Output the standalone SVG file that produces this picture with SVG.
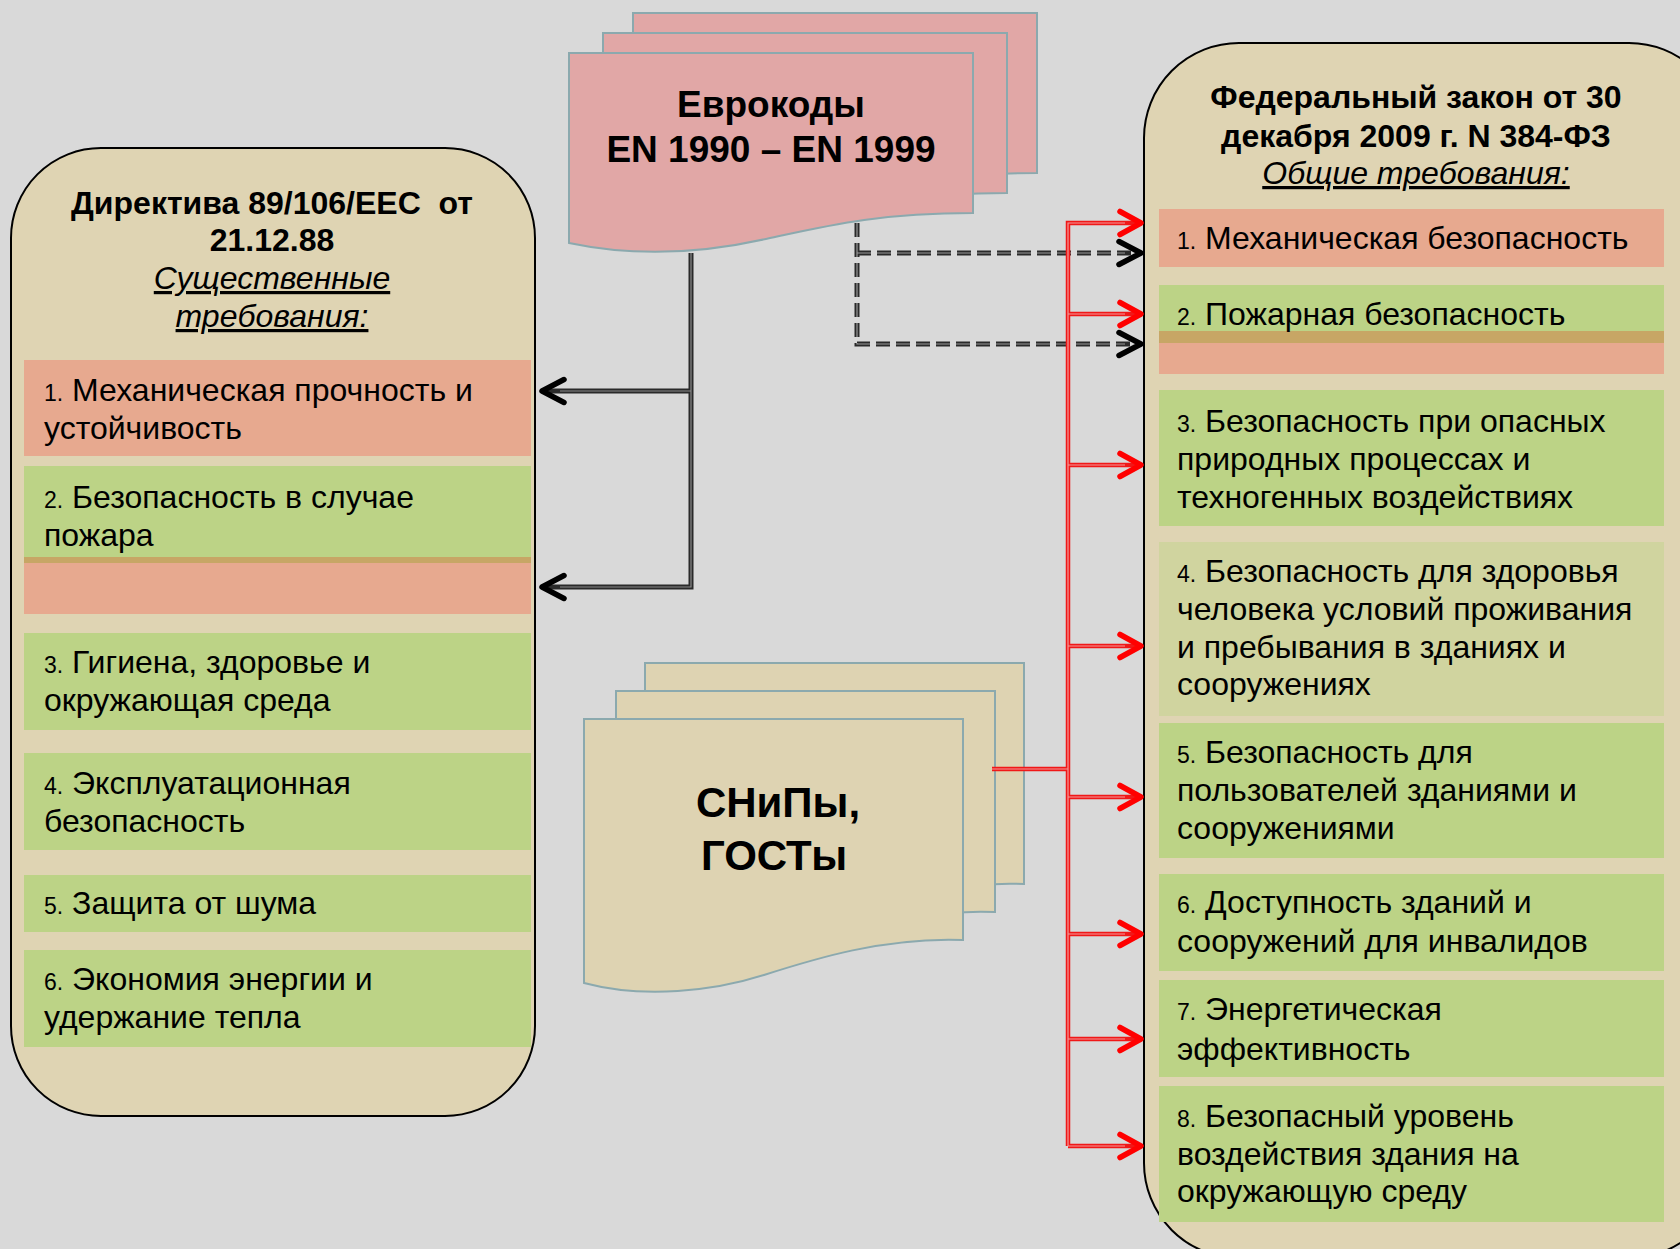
<svg xmlns="http://www.w3.org/2000/svg" width="1680" height="1249" viewBox="0 0 1680 1249">
<defs>
<style>
text{font-family:"Liberation Sans",Arial,sans-serif;fill:#000}
.hd{font-size:32px;font-weight:bold;text-anchor:middle}
.it{font-size:32px;font-style:italic;text-anchor:middle;text-decoration:underline}
.tx{font-size:32px}
.num{font-size:23px}
.panel{fill:#DFD4B3;stroke:#000;stroke-width:2}
.sal{fill:#E7A98F}
.grn{fill:#BCD386}
.pale{fill:#D0D49F}
.strp{fill:#C7A665}
.docE{fill:#E1A7A6;stroke:#8BA9AE;stroke-width:2}
.docS{fill:#DED3B2;stroke:#8BA9AE;stroke-width:2}
.big{font-weight:bold;text-anchor:middle}
.blk{fill:none;stroke:#2A2A2A;stroke-width:5}
.blkIn{fill:none;stroke:#8A8A8A;stroke-width:1.2}
.dsh{fill:none;stroke:#2A2A2A;stroke-width:5;stroke-dasharray:14 6}
.dshIn{fill:none;stroke:#9A9A9A;stroke-width:1.2;stroke-dasharray:14 6}
.red{fill:none;stroke:#F01818;stroke-width:4.5}
.redIn{fill:none;stroke:#F49A9A;stroke-width:1.2}
</style>
<marker id="ab" markerUnits="userSpaceOnUse" viewBox="-27 -15 31 30" refX="0" refY="0" markerWidth="31" markerHeight="30" orient="auto">
<path d="M-22,-11.5 L0,0 L-22,11.5" fill="none" stroke="#000" stroke-width="5.5" stroke-linecap="round" stroke-linejoin="round"/>
</marker>
<marker id="ar" markerUnits="userSpaceOnUse" viewBox="-27 -15 31 30" refX="0" refY="0" markerWidth="31" markerHeight="30" orient="auto">
<path d="M-21,-11.5 L0,0 L-21,11.5" fill="none" stroke="#FF0000" stroke-width="5.5" stroke-linecap="round" stroke-linejoin="round"/>
</marker>
<path id="docEshape" d="M0,0 H404 V160 C311,160 261,172 201,185 C141,199 71,205 0,190 Z"/>
<path id="docSshape" d="M0,0 H379 V221 C300,218 230,240 180,256 C130,272 60,280 0,264 Z"/>
</defs>
<rect width="1680" height="1249" fill="#D9D9D9"/>

<g id="directive">
<rect class="panel" x="11" y="148" width="524" height="968" rx="90" ry="90"/>
<text class="hd" x="272" y="214">Директива 89/106/ЕЕС&#160; от</text>
<text class="hd" x="272" y="251">21.12.88</text>
<text class="it" x="272" y="289">Существенные</text>
<text class="it" x="272" y="327">требования:</text>
<rect class="sal" x="24" y="360" width="507" height="96"/>
<text class="tx" x="44" y="401"><tspan class="num">1.</tspan> Механическая прочность и</text>
<text class="tx" x="44" y="439">устойчивость</text>
<rect class="grn" x="24" y="466" width="507" height="91"/>
<rect class="strp" x="24" y="557" width="507" height="6"/>
<rect class="sal" x="24" y="563" width="507" height="51"/>
<text class="tx" x="44" y="508"><tspan class="num">2.</tspan> Безопасность в случае</text>
<text class="tx" x="44" y="546">пожара</text>
<rect class="grn" x="24" y="633" width="507" height="97"/>
<text class="tx" x="44" y="673"><tspan class="num">3.</tspan> Гигиена, здоровье и</text>
<text class="tx" x="44" y="711">окружающая среда</text>
<rect class="grn" x="24" y="753" width="507" height="97"/>
<text class="tx" x="44" y="794"><tspan class="num">4.</tspan> Эксплуатационная</text>
<text class="tx" x="44" y="832">безопасность</text>
<rect class="grn" x="24" y="875" width="507" height="57"/>
<text class="tx" x="44" y="914"><tspan class="num">5.</tspan> Защита от шума</text>
<rect class="grn" x="24" y="950" width="507" height="97"/>
<text class="tx" x="44" y="990"><tspan class="num">6.</tspan> Экономия энергии и</text>
<text class="tx" x="44" y="1028">удержание тепла</text>
</g>

<g id="federal-law">
<rect class="panel" x="1144" y="43" width="580" height="1215" rx="95" ry="95"/>
<text class="hd" x="1416" y="108">Федеральный закон от 30</text>
<text class="hd" x="1416" y="147">декабря 2009 г. N 384-ФЗ</text>
<text class="it" x="1416" y="184">Общие требования:</text>
<rect class="sal" x="1159" y="209" width="505" height="58"/>
<text class="tx" x="1177" y="249"><tspan class="num">1.</tspan> Механическая безопасность</text>
<rect class="grn" x="1159" y="285" width="505" height="46"/>
<rect class="strp" x="1159" y="331" width="505" height="12"/>
<rect class="sal" x="1159" y="343" width="505" height="31"/>
<text class="tx" x="1177" y="325"><tspan class="num">2.</tspan> Пожарная безопасность</text>
<rect class="grn" x="1159" y="390" width="505" height="136"/>
<text class="tx" x="1177" y="432"><tspan class="num">3.</tspan> Безопасность при опасных</text>
<text class="tx" x="1177" y="470">природных процессах и</text>
<text class="tx" x="1177" y="508">техногенных воздействиях</text>
<rect class="pale" x="1159" y="542" width="505" height="174"/>
<text class="tx" x="1177" y="582"><tspan class="num">4.</tspan> Безопасность для здоровья</text>
<text class="tx" x="1177" y="620">человека условий проживания</text>
<text class="tx" x="1177" y="658">и пребывания в зданиях и</text>
<text class="tx" x="1177" y="695">сооружениях</text>
<rect class="grn" x="1159" y="723" width="505" height="135"/>
<text class="tx" x="1177" y="763"><tspan class="num">5.</tspan> Безопасность для</text>
<text class="tx" x="1177" y="801">пользователей зданиями и</text>
<text class="tx" x="1177" y="839">сооружениями</text>
<rect class="grn" x="1159" y="874" width="505" height="97"/>
<text class="tx" x="1177" y="913"><tspan class="num">6.</tspan> Доступность зданий и</text>
<text class="tx" x="1177" y="952">сооружений для инвалидов</text>
<rect class="grn" x="1159" y="980" width="505" height="97"/>
<text class="tx" x="1177" y="1020"><tspan class="num">7.</tspan> Энергетическая</text>
<text class="tx" x="1177" y="1060">эффективность</text>
<rect class="grn" x="1159" y="1086" width="505" height="136"/>
<text class="tx" x="1177" y="1127"><tspan class="num">8.</tspan> Безопасный уровень</text>
<text class="tx" x="1177" y="1165">воздействия здания на</text>
<text class="tx" x="1177" y="1202">окружающую среду</text>
</g>

<g id="eurocodes">
<use href="#docEshape" class="docE" transform="translate(633,13)"/>
<use href="#docEshape" class="docE" transform="translate(603,33)"/>
<use href="#docEshape" class="docE" transform="translate(569,53)"/>
<text class="big" x="771" y="117" font-size="37">Еврокоды</text>
<text class="big" x="771" y="162" font-size="37">EN 1990 – EN 1999</text>
</g>

<g id="snip">
<use href="#docSshape" class="docS" transform="translate(645,663)"/>
<use href="#docSshape" class="docS" transform="translate(616,691)"/>
<use href="#docSshape" class="docS" transform="translate(584,719)"/>
<text class="big" x="778" y="817" font-size="42">СНиПы,</text>
<text class="big" x="774" y="870" font-size="42">ГОСТы</text>
</g>

<g id="connectors">
<path class="blk" d="M691,253 V587 H542" marker-end="url(#ab)"/>
<path class="blk" d="M691,391 H542" marker-end="url(#ab)"/>
<path class="blkIn" d="M691,253 V587 H560 M691,391 H560"/>
<path class="dsh" d="M857,223 V344 H1141" marker-end="url(#ab)"/>
<path class="dsh" d="M857,253 H1141" marker-end="url(#ab)"/>
<path class="dshIn" d="M857,223 V344 H1125 M857,253 H1125"/>
<path class="red" d="M992,769 H1068"/>
<path class="red" d="M1068,1146 V223 H1141" marker-end="url(#ar)"/>
<path class="red" d="M1068,314 H1141" marker-end="url(#ar)"/>
<path class="red" d="M1068,465 H1141" marker-end="url(#ar)"/>
<path class="red" d="M1068,646 H1141" marker-end="url(#ar)"/>
<path class="red" d="M1068,797 H1141" marker-end="url(#ar)"/>
<path class="red" d="M1068,934 H1141" marker-end="url(#ar)"/>
<path class="red" d="M1068,1039 H1141" marker-end="url(#ar)"/>
<path class="red" d="M1068,1146 H1141" marker-end="url(#ar)"/>
<path class="redIn" d="M992,769 H1068 M1068,1146 V223 H1125 M1068,314 H1125 M1068,465 H1125 M1068,646 H1125 M1068,797 H1125 M1068,934 H1125 M1068,1039 H1125 M1068,1146 H1125"/>
</g>
</svg>
